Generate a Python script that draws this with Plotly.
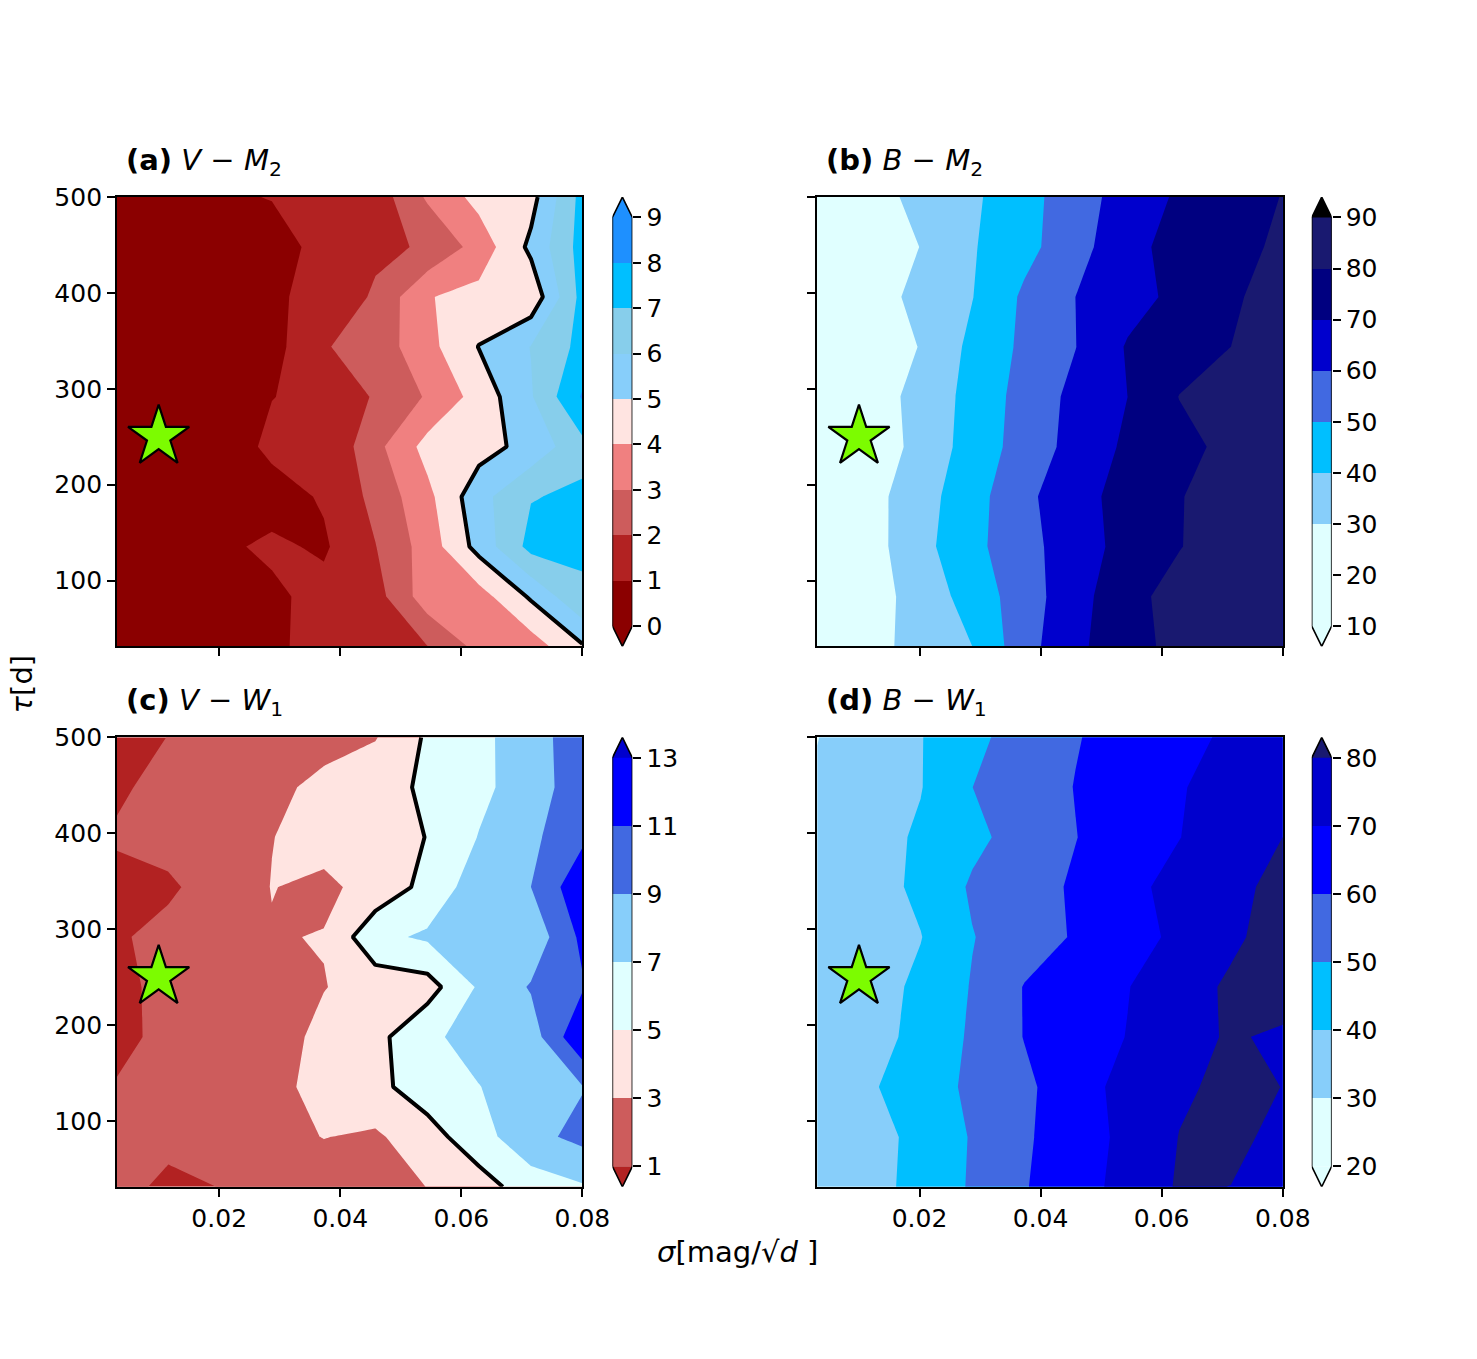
import plotly.graph_objects as go

W, H = 1477, 1359
FONT = "DejaVu Sans"
# the page draws the figure slightly shrunk; positions below are given in target pixels
SX, OY, SY = 0.982, 12.7, 0.991

# grid of the simulations
SIGMA = [0.0031, 0.0116, 0.0202, 0.0287, 0.0373, 0.0458, 0.0544, 0.0629, 0.0715, 0.08]
TAU = [500, 447.9, 395.8, 343.8, 291.7, 239.6, 187.5, 135.4, 83.3, 31.25]  # rows listed top -> bottom

# (a) V - M2
Z_A = [
    [0.3, 0.5, 0.81, 1.05, 1.2, 1.42, 3.14, 4.33, 4.65, 7.35],
    [0.2, 0.25, 0.35, 0.47, 1.4, 1.79, 2.11, 3.4, 5.22, 7.4],
    [0.3, 0.4, 0.6, 0.9, 1.2, 2.15, 3.95, 4.3, 4.3, 7.34],
    [0.2, 0.3, 0.45, 0.64, 1.93, 2.42, 3.68, 5.03, 6.03, 7.3],
    [0.3, 0.45, 0.7, 0.98, 1.23, 2.1, 3.1, 4.39, 5.91, 8.1],
    [0.2, 0.3, 0.46, 1.2, 1.05, 2.7, 4.35, 4.6, 5.35, 6.7],
    [0.2, 0.3, 0.45, 0.62, 1.1, 2.28, 3.73, 5.65, 6.95, 7.17],
    [0.3, 0.5, 0.84, 1.16, 0.87, 1.97, 3.45, 5.35, 7.32, 7.1],
    [0.3, 0.4, 0.6, 0.82, 1.3, 1.59, 3.55, 3.58, 5.14, 6.9],
    [0.3, 0.45, 0.6, 0.845, 1.3, 1.6, 1.98, 3.3, 3.5, 4.9],
]
# (b) B - M2
Z_B = [
    [20.7, 26.5, 32.4, 38.3, 46.4, 55.6, 64.3, 71.4, 75.7, 80.3],
    [18, 23.5, 30.2, 39.2, 47, 56.1, 67.3, 73.2, 77.4, 81.5],
    [18, 25.6, 32.6, 39.7, 51.6, 60.05, 66.3, 72.5, 78.5, 84.5],
    [16, 19, 30.7, 42.3, 52, 59.85, 70.9, 75.4, 80.03, 84.6],
    [18, 24.5, 33.5, 43.1, 53.7, 62.6, 70.02, 80.2, 84, 86],
    [18, 23, 33.4, 44, 54.2, 63.4, 71.8, 77.2, 82.5, 85],
    [20, 26.3, 36, 46.1, 57.6, 66.6, 73.5, 79.4, 85.4, 87],
    [20, 25.8, 36.9, 47.3, 56.5, 65.6, 73.3, 79.6, 84.9, 87],
    [19, 25.3, 34.2, 44, 55.3, 66.2, 77.1, 83.5, 86, 88],
    [19, 26.7, 33.4, 39.96, 56.2, 67.9, 76.3, 83, 85.5, 87.5],
]
# (c) V - W1
Z_C = [
    [0.53, 1.02, 1.51, 2.0, 2.49, 2.89, 5.29, 6.47, 8.18, 10.1],
    [0.8, 1.42, 2.03, 2.64, 3.38, 4.31, 5.29, 6.48, 8.11, 10.05],
    [1.15, 1.6, 2.28, 2.96, 3.65, 4.33, 5.04, 7.08, 8.56, 10.6],
    [0.6, 0.73, 1.8, 3.05, 2.63, 3.63, 5.62, 8.08, 9.0, 12.5],
    [0.8, 1.5, 2.2, 2.89, 3.08, 6.51, 7.3, 7.5, 7.62, 11.46],
    [0.54, 1.5, 2.0, 2.5, 2.93, 3.8, 4.17, 7.25, 9.17, 10.8],
    [0.6, 1.4, 1.7, 1.98, 3.6, 4.39, 6.64, 7.7, 8.0, 12.8],
    [1.1, 1.4, 1.8, 2.29, 3.8, 4.48, 6.0, 6.95, 8.0, 8.9],
    [1.2, 1.4, 1.8, 2.4, 3.05, 2.7, 4.2, 6.2, 8.4, 9.55],
    [1.5, 0.68, 1.03, 1.5, 2.0, 2.5, 3.02, 4.15, 6.0, 6.8],
]
# (d) B - W1
Z_D = [
    [29.8, 34.8, 39.6, 47.7, 54, 59.5, 63.5, 67.4, 71.5, 75],
    [31, 34.8, 39.6, 49.95, 55.1, 60.3, 64.8, 69.3, 73.8, 78],
    [31, 35.9, 41.4, 47.7, 53.8, 59.8, 64.8, 69.8, 74.9, 80.02],
    [31, 35.8, 42, 51.2, 56.1, 61.2, 67.6, 72.9, 77.7, 82.5],
    [31, 34.8, 39.7, 49.6, 55.4, 60.9, 66.3, 72, 78.2, 84.4],
    [31, 35.9, 41.9, 50.6, 60.4, 65.1, 69.7, 75.6, 81.6, 84],
    [31.3, 36.4, 42.7, 51.4, 60.3, 65.3, 70.3, 77.4, 80.8, 78.7],
    [32.2, 38.7, 45.3, 51.8, 57.9, 66.1, 73, 78.7, 82, 79.9],
    [30.5, 36, 42.9, 50.7, 58.7, 65.4, 72.4, 80.2, 82, 77.8],
    [31, 36.1, 43.5, 51, 59.4, 66, 73.3, 81, 79.9, 77],
]

LEVELS_A = [0, 1, 2, 3, 4, 5, 6, 7, 8, 9]
LEVELS_B = [10, 20, 30, 40, 50, 60, 70, 80, 90]
LEVELS_C = [1, 3, 5, 7, 9, 11, 13]
LEVELS_D = [20, 30, 40, 50, 60, 70, 80]

# colours: [below first level, bands..., above last level]
COLORS_A = ["#8b0000", "#8b0000", "#b22222", "#cd5c5c", "#f08080", "#ffe4e1",
            "#87cefa", "#87ceeb", "#00bfff", "#1e90ff", "#1e90ff"]
COLORS_B = ["#e0ffff", "#e0ffff", "#e0ffff", "#87cefa", "#00bfff", "#4169e1",
            "#0000cd", "#000080", "#191970", "#000000"]
COLORS_C = ["#b22222", "#cd5c5c", "#ffe4e1", "#e0ffff", "#87cefa", "#4169e1",
            "#0000ff", "#0000cd"]
COLORS_D = ["#e0ffff", "#e0ffff", "#87cefa", "#00bfff", "#4169e1", "#0000ff",
            "#0000cd", "#191970"]

TITLES = [
    "<b>(a)</b> <i>V</i> − <i>M</i><sub>2</sub>",
    "<b>(b)</b> <i>B</i> − <i>M</i><sub>2</sub>",
    "<b>(c)</b> <i>V</i> − <i>W</i><sub>1</sub>",
    "<b>(d)</b> <i>B</i> − <i>W</i><sub>1</sub>",
]
X_LABEL = "<i>σ</i>[mag/√<i>d</i> ]"
Y_LABEL = "<i>τ</i>[d]"
STAR_SIGMA = [0.01]
STAR_TAU = [250]
X_TICKS = [0.02, 0.04, 0.06, 0.08]
Y_TICKS = [100, 200, 300, 400, 500]
BLACK_LEVEL = 5

TAU_ASC = TAU[::-1]
TICK_SIZE = 25
LABEL_SIZE = 29


def fx(p):
    return p / (W * SX)


def fy(p):
    return 1 - (p - OY) / (H * SY)


panels = [
    dict(z=Z_A, lev=LEVELS_A, col=COLORS_A, black=True, box=(117, 583, 196, 646), cb=(613, 633),
         xlab=False, ylab=True),
    dict(z=Z_B, lev=LEVELS_B, col=COLORS_B, black=False, box=(818, 1284, 196, 646), cb=(1313, 1333),
         xlab=False, ylab=False),
    dict(z=Z_C, lev=LEVELS_C, col=COLORS_C, black=True, box=(117, 583, 737, 1187), cb=(613, 633),
         xlab=True, ylab=True),
    dict(z=Z_D, lev=LEVELS_D, col=COLORS_D, black=False, box=(818, 1284, 737, 1187), cb=(1313, 1333),
         xlab=True, ylab=False),
]

fig = go.Figure()
layout = dict(
    width=W, height=H, margin=dict(l=0, r=0, t=0, b=0),
    paper_bgcolor="white", plot_bgcolor="white", showlegend=False,
    font=dict(family=FONT, size=TICK_SIZE, color="black"), bargap=0,
    annotations=[],
)

AX_COMMON = dict(showline=True, mirror=True, linecolor="black", linewidth=1.6,
                 ticks="outside", ticklen=8, tickwidth=1.6, tickcolor="black",
                 showgrid=False, zeroline=False, tickfont=dict(size=TICK_SIZE, family=FONT))

for i, p in enumerate(panels):
    k = i + 1
    xa = "x" if k == 1 else f"x{k}"
    ya = "y" if k == 1 else f"y{k}"
    lev = p["lev"]
    step = lev[1] - lev[0]
    n = len(p["col"])
    cs = []
    for j, c in enumerate(p["col"]):
        cs.append([j / n, c])
        cs.append([(j + 1) / n, c])
    z_asc = p["z"][::-1]
    fig.add_trace(go.Contour(
        x=SIGMA, y=TAU_ASC, z=z_asc, xaxis=xa, yaxis=ya,
        autocontour=False,
        contours=dict(start=lev[0], end=lev[-1], size=step, coloring="fill", showlines=False),
        colorscale=cs, showscale=False, line=dict(width=0, smoothing=0), hoverinfo="skip",
    ))
    if p["black"]:
        fig.add_trace(go.Contour(
            x=SIGMA, y=TAU_ASC, z=z_asc, xaxis=xa, yaxis=ya,
            autocontour=False,
            contours=dict(start=BLACK_LEVEL, end=BLACK_LEVEL, size=1, coloring="none"),
            showscale=False, line=dict(width=4, color="black", smoothing=0), hoverinfo="skip",
        ))
    fig.add_trace(go.Scatter(
        x=STAR_SIGMA, y=STAR_TAU, mode="markers", xaxis=xa, yaxis=ya,
        marker=dict(symbol="star", size=46, color="#7cfc00", line=dict(color="black", width=2.2)),
        hoverinfo="skip",
    ))
    x0, x1, y0, y1 = p["box"]
    layout["xaxis" if k == 1 else f"xaxis{k}"] = dict(
        AX_COMMON, domain=[fx(x0), fx(x1)], range=[SIGMA[0], SIGMA[-1]], anchor=ya,
        tickvals=X_TICKS, ticktext=[f"{v:.2f}" for v in X_TICKS], showticklabels=p["xlab"])
    layout["yaxis" if k == 1 else f"yaxis{k}"] = dict(
        AX_COMMON, domain=[fy(y1), fy(y0)], range=[TAU_ASC[0], TAU_ASC[-1]], anchor=xa,
        tickvals=Y_TICKS, showticklabels=p["ylab"])

    # colour bar on its own small axes
    kc = k + 4
    xc = f"x{kc}"
    yc = f"y{kc}"
    ext = 0.05 * (lev[-1] - lev[0])
    fig.add_trace(go.Bar(
        x=[0] * (len(lev) - 1), y=[lev[j + 1] - lev[j] for j in range(len(lev) - 1)],
        base=lev[:-1], width=1, marker=dict(color=p["col"][1:-1], line=dict(width=0)),
        xaxis=xc, yaxis=yc, hoverinfo="skip"))
    fig.add_trace(go.Scatter(
        x=[-0.5, 0.5, 0, -0.5], y=[lev[0], lev[0], lev[0] - ext, lev[0]], mode="lines",
        fill="toself", fillcolor=p["col"][0], line=dict(width=0, color=p["col"][0]),
        xaxis=xc, yaxis=yc, hoverinfo="skip"))
    fig.add_trace(go.Scatter(
        x=[-0.5, 0.5, 0, -0.5], y=[lev[-1], lev[-1], lev[-1] + ext, lev[-1]], mode="lines",
        fill="toself", fillcolor=p["col"][-1], line=dict(width=0, color=p["col"][-1]),
        xaxis=xc, yaxis=yc, hoverinfo="skip"))
    fig.add_trace(go.Scatter(
        x=[-0.5, 0, 0.5, 0.5, 0, -0.5, -0.5],
        y=[lev[0], lev[0] - ext, lev[0], lev[-1], lev[-1] + ext, lev[-1], lev[0]],
        mode="lines", line=dict(color="black", width=1.6), xaxis=xc, yaxis=yc, hoverinfo="skip"))
    c0, c1 = p["cb"]
    layout[f"xaxis{kc}"] = dict(domain=[fx(c0), fx(c1)], range=[-0.5, 0.5], visible=False,
                               anchor=yc, fixedrange=True)
    layout[f"yaxis{kc}"] = dict(domain=[fy(y1), fy(y0)], range=[lev[0] - ext, lev[-1] + ext],
                               anchor=xc, side="right", tickvals=lev, ticks="outside", ticklen=8,
                               tickwidth=1.6, tickcolor="black", showline=False, showgrid=False,
                               zeroline=False, tickfont=dict(size=TICK_SIZE, family=FONT))

    layout["annotations"].append(dict(
        text=TITLES[i], x=fx(x0 + 7), y=fy(y0 - 35), xref="paper", yref="paper",
        xanchor="left", yanchor="middle", showarrow=False, font=dict(size=LABEL_SIZE, family=FONT)))

layout["annotations"].append(dict(
    text=X_LABEL, x=fx(738), y=fy(1252), xref="paper", yref="paper",
    xanchor="center", yanchor="middle", showarrow=False, font=dict(size=LABEL_SIZE, family=FONT)))
layout["annotations"].append(dict(
    text=Y_LABEL, x=fx(22), y=fy(683), xref="paper", yref="paper", textangle=-90,
    xanchor="center", yanchor="middle", showarrow=False, font=dict(size=LABEL_SIZE, family=FONT)))

fig.update_layout(**layout)
fig.write_html("out.html")
